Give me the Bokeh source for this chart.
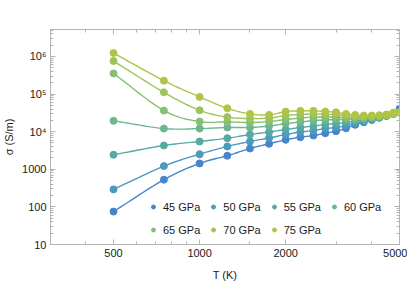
import numpy as np
from bokeh.plotting import figure
from bokeh.models import (Range1d, LogAxis, FixedTicker, LogTicker, Legend,
                          LegendItem, CustomJSTickFormatter)
from bokeh.embed import file_html
from bokeh.resources import INLINE

T = [500, 750, 1000, 1250, 1500, 1750, 2000, 2250, 2500, 2750, 3000,
     3250, 3500, 3750, 4000, 4250, 4500, 4750, 5000]

s45 = [75, 529, 1430, 2290, 3570, 4760, 6080, 7130, 7900, 9100, 10300,
       12300, 15200, 17800, 20400, 23300, 26300, 31200, 40400]
s50 = [292, 1213, 2520, 4040, 5480, 6780, 8400, 9780, 10700, 12100, 12900,
       14600, 16900, 19100, 21200, 23700, 26300, 29400, 33200]
s55 = [2430, 4290, 5480, 6700, 8400, 9780, 11400, 12900, 14100, 15500, 16400,
       17500, 19100, 20600, 22300, 24300, 26500, 29400, 32600]
s60 = [19400, 12100, 12100, 12900, 12900, 14100, 16400, 18000, 19700, 20400,
       21000, 21000, 21600, 22300, 23300, 24900, 27000, 29500, 32100]
s65 = [354000, 36300, 18600, 18200, 17500, 18600, 21000, 23000, 24400, 24400,
       24400, 23700, 23700, 23700, 24400, 25700, 27400, 29900, 32400]
s70 = [755000, 111000, 37000, 24400, 22300, 23000, 26800, 28500, 29400, 29000,
       28500, 26800, 26000, 25200, 25700, 26500, 27900, 30300, 32600]
s75 = [1230000, 227000, 83900, 41800, 29700, 27900, 34200, 35700, 35700, 34200,
       32700, 29700, 27900, 26800, 26800, 27300, 28500, 30800, 32700]

labels = ["45 GPa", "50 GPa", "55 GPa", "60 GPa", "65 GPa", "70 GPa", "75 GPa"]
series = [s45, s50, s55, s60, s65, s70, s75]
colors = ["#4684cc", "#4a9bbe", "#57aaa3", "#6cb78e", "#84bf74", "#9cc45a", "#b0c448"]

x_major = [500, 1000, 2000, 5000]
x_minor = [300, 400, 600, 700, 800, 900, 1500, 3000, 4000]


def smooth(xs, ys, n=14):
    lx = np.log10(np.asarray(xs, float))
    ly = np.log10(np.asarray(ys, float))
    px = np.concatenate([[2 * lx[0] - lx[1]], lx, [2 * lx[-1] - lx[-2]]])
    py = np.concatenate([[2 * ly[0] - ly[1]], ly, [2 * ly[-1] - ly[-2]]])
    ox, oy = [], []
    for i in range(1, len(px) - 2):
        t = np.linspace(0, 1, n, endpoint=False)
        for arr, out in ((px, ox), (py, oy)):
            p0, p1, p2, p3 = arr[i - 1], arr[i], arr[i + 1], arr[i + 2]
            out.extend(0.5 * ((2 * p1) + (-p0 + p2) * t +
                              (2 * p0 - 5 * p1 + 4 * p2 - p3) * t ** 2 +
                              (-p0 + 3 * p1 - 3 * p2 + p3) * t ** 3))
    ox.append(lx[-1]); oy.append(ly[-1])
    return 10 ** np.array(ox), 10 ** np.array(oy)


FONT = "Liberation Sans"
frame_col = "#b4b4b4"
txt_col = "#1a1a1a"

p = figure(x_axis_type="log", y_axis_type="log",
           x_range=Range1d(301, 5000), y_range=Range1d(10, 5.2e6),
           frame_width=349, frame_height=215,
           min_border_left=42, min_border_right=8, min_border_top=29,
           min_border_bottom=48,
           output_backend="svg", toolbar_location=None)
p.grid.visible = False
p.outline_line_color = frame_col
p.background_fill_color = "white"

xt = FixedTicker(ticks=x_major, minor_ticks=x_minor)
yt = LogTicker(num_minor_ticks=10)

bottom = p.xaxis[0]
left = p.yaxis[0]
bottom.ticker = xt
left.ticker = yt
left.formatter = CustomJSTickFormatter(code="""
const e = Math.round(Math.log10(tick));
if (e <= 3) { return String(Math.round(tick)); }
const sup = {"0":"\u2070","1":"\u00b9","2":"\u00b2","3":"\u00b3","4":"\u2074","5":"\u2075","6":"\u2076","7":"\u2077","8":"\u2078","9":"\u2079"};
return "10" + String(e).split("").map(c => sup[c]).join("");
""")
bottom.axis_label = "T (K)"
left.axis_label = "σ (S/m)"

blank = CustomJSTickFormatter(code="return '';")
top = LogAxis(ticker=xt, formatter=blank)
right = LogAxis(ticker=yt, formatter=blank)
p.add_layout(top, "above")
p.add_layout(right, "right")

for ax in [bottom, left, top, right]:
    ax.axis_line_color = frame_col
    ax.major_tick_line_color = frame_col
    ax.minor_tick_line_color = frame_col
    ax.major_tick_in = 5
    ax.major_tick_out = 0
    ax.minor_tick_in = 3
    ax.minor_tick_out = 0
    ax.major_label_text_font = FONT
    ax.major_label_text_font_size = "11px"
    ax.major_label_text_color = txt_col
    ax.axis_label_text_font = FONT
    ax.axis_label_text_font_size = "11px"
    ax.axis_label_text_font_style = "normal"
    ax.axis_label_text_color = txt_col
    ax.major_label_standoff = 4
    ax.axis_label_standoff = 4

for ax in [top, right]:
    ax.major_label_standoff = 0
    ax.axis_label_standoff = 0

bottom.axis_label_standoff = 9

items = []
for lab, vals, col in zip(labels, series, colors):
    sx, sy = smooth(T, vals)
    p.line(sx, sy, line_color=col, line_width=1.4)
    r = p.scatter(T, vals, size=7, fill_color=col, line_color=col)
    items.append(LegendItem(label=lab, renderers=[r]))


def make_legend(its, loc):
    return Legend(items=its, orientation="horizontal", location=loc,
                  padding=0, margin=0, spacing=8, glyph_width=10,
                  glyph_height=15, label_standoff=5, border_line_color=None,
                  background_fill_alpha=0, label_text_font=FONT,
                  label_text_font_size="11px", label_text_color=txt_col)


p.add_layout(make_legend(items[:4], (98, 30)), "center")
p.add_layout(make_legend(items[4:], (98, 7)), "center")

open("out.html", "w").write(file_html(p, INLINE))
